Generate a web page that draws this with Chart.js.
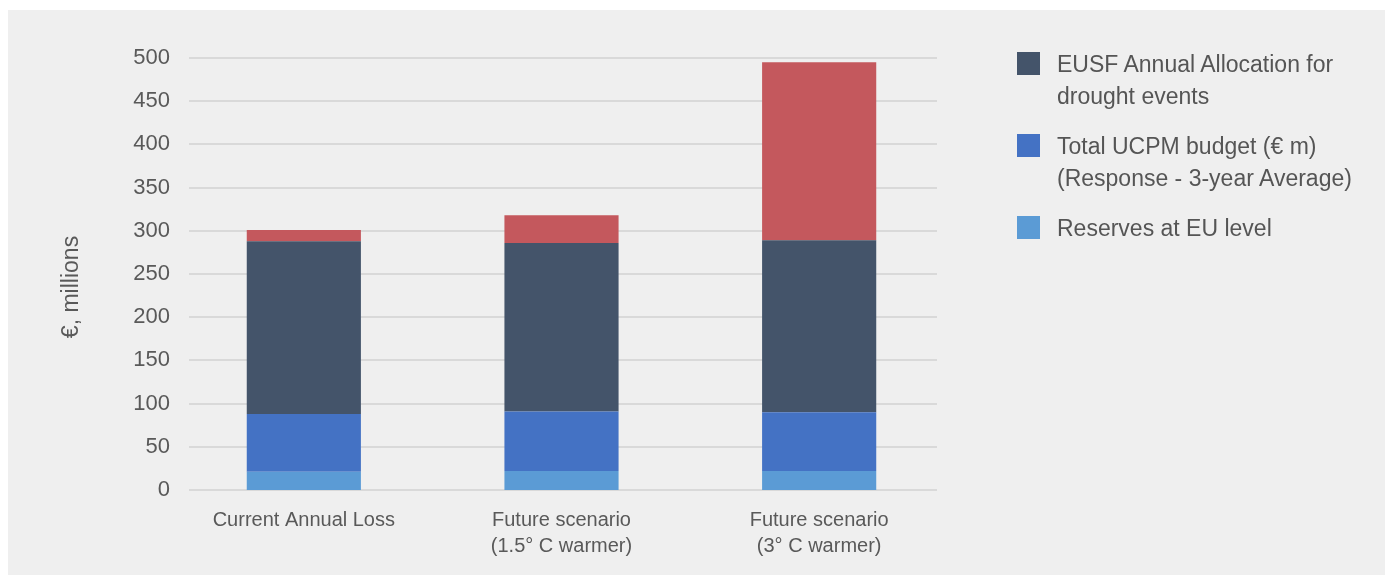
<!DOCTYPE html>
<html>
<head>
<meta charset="utf-8">
<script src="https://cdn.jsdelivr.net/npm/chart.js@4/dist/chart.umd.min.js"></script>
<style>
  html, body { margin: 0; padding: 0; background: #ffffff; }
  #panel {
    position: absolute; left: 8px; top: 10px;
    width: 1377px; height: 565px; background: #efefef;
  }
  #chartBox { position: absolute; left: 0; top: 0; width: 1377px; height: 565px; }
  #legend {
    position: absolute; left: 1009px; top: 38px;
    font-family: "Liberation Sans", Arial, sans-serif;
    font-size: 23px; line-height: 32px; color: #555555;
  }
  .item { position: relative; padding-left: 40px; margin-bottom: 18px; }
  .swatch { position: absolute; left: 0; top: 4px; width: 23px; height: 23px; }
</style>
</head>
<body>
<div id="panel">
  <div id="chartBox"><canvas id="chart"></canvas></div>
  <div id="legend"></div>
</div>
<script>
// categories
const categories = [
  ["Current Annual Loss"],
  ["Future scenario", "(1.5° C warmer)"],
  ["Future scenario", "(3° C warmer)"]
];

// series values (€ millions), bottom to top
const reserves = [21, 22, 22];
const ucpm = [67, 69, 68];
const eusf = [200, 195, 199];
const uncovered = [13, 32, 206];

// y axis ticks
const yMin = 0;
const yMax = 500;
const yStep = 50;
const yTitle = "€, millions";

const seriesNames = [
  "Reserves at EU level",
  ["Total UCPM budget (€ m)", "(Response - 3-year Average)"],
  ["EUSF Annual Allocation for", "drought events"],
  "Uncovered loss"
];

const colors = ["#5b9bd5", "#4472c4", "#44546a", "#c4585d"];

const font = "'Liberation Sans', Arial, sans-serif";

// grid lines drawn a bit inside the plot, like the original
const gridPlugin = {
  id: "insetGrid",
  beforeDatasetsDraw(chart) {
    const ctx = chart.ctx;
    const y = chart.scales.y;
    const area = chart.chartArea;
    ctx.save();
    ctx.strokeStyle = "#d9d9d9";
    ctx.lineWidth = 2;
    y.ticks.forEach((t) => {
      const py = Math.round(y.getPixelForValue(t.value));
      ctx.beginPath();
      ctx.moveTo(area.left + 14, py);
      ctx.lineTo(area.right - 11, py);
      ctx.stroke();
    });
    ctx.restore();
  },
  // y title sits a little below the middle of the axis in the original
  afterDraw(chart) {
    const ctx = chart.ctx;
    ctx.save();
    ctx.translate(64, 277);
    ctx.rotate(-Math.PI / 2);
    ctx.font = "23px " + font;
    ctx.fillStyle = "#595959";
    ctx.textAlign = "center";
    ctx.textBaseline = "middle";
    ctx.fillText(yTitle, 0, 0);
    ctx.restore();
  }
};

const ctx = document.getElementById("chart").getContext("2d");

const data = {
  labels: categories,
  datasets: [reserves, ucpm, eusf, uncovered].map((vals, i) => ({
    label: seriesNames[i],
    data: vals,
    backgroundColor: colors[i],
    borderWidth: 0,
    barPercentage: 0.443,
    categoryPercentage: 1.0
  }))
};

let chart = new Chart(ctx, {
  type: "bar",
  data: data,
  options: {
    responsive: true,
    maintainAspectRatio: false,
    animation: false,
    layout: { padding: { top: 48, right: 437, left: 0, bottom: 0 } },
    plugins: {
      legend: { display: false },
      tooltip: { enabled: false }
    },
    scales: {
      x: {
        stacked: true,
        grid: { display: false, drawTicks: false },
        border: { display: false },
        ticks: {
          color: "#595959",
          font: { family: font, size: 20, lineHeight: 1.3 },
          padding: 17
        },
        afterFit(s) { s.height = 85; }
      },
      y: {
        stacked: true,
        min: yMin,
        max: yMax,
        grid: { display: false, drawTicks: false },
        border: { display: false },
        ticks: {
          stepSize: yStep,
          color: "#595959",
          font: { family: font, size: 22 },
          padding: 5
        },
        afterFit(s) { s.width = 167; }
      }
    }
  },
  plugins: [gridPlugin]
});

// legend: top stack segment first, the uncovered part is not listed
const legend = document.getElementById("legend");
[2, 1, 0].forEach((i) => {
  const ds = chart.data.datasets[i];
  const item = document.createElement("div");
  item.className = "item";
  const sw = document.createElement("div");
  sw.className = "swatch";
  sw.style.background = ds.backgroundColor;
  item.appendChild(sw);
  const lines = Array.isArray(ds.label) ? ds.label : [ds.label];
  lines.forEach((l) => {
    const d = document.createElement("div");
    d.textContent = l;
    item.appendChild(d);
  });
  legend.appendChild(item);
});
</script>
</body>
</html>
